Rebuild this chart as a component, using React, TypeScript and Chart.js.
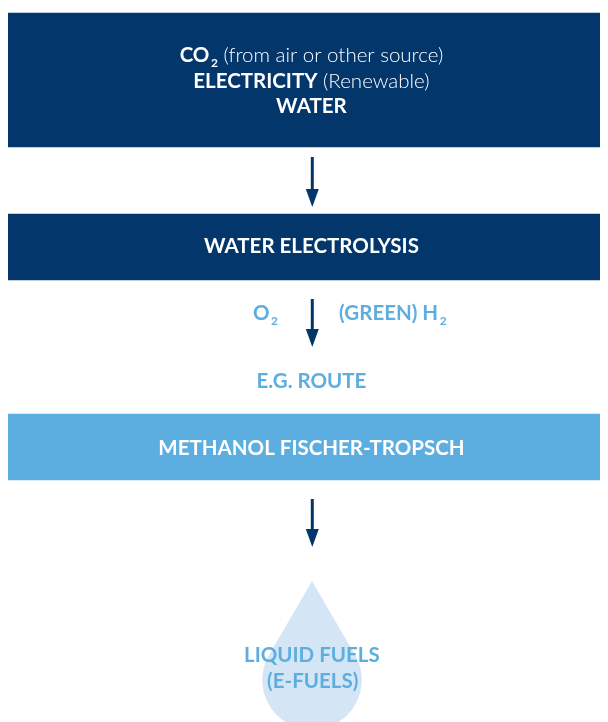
import React, { useEffect, useRef } from 'react';
import { Chart, registerables } from 'chart.js';

Chart.register(...registerables);

const NAVY = '#03366A';
const SKY = '#5DAEE0';
const DROP = '#D4E6F5';
const WHITE = '#FFFFFF';
const FONT = 'Lato, "Open Sans", sans-serif';

// Diagram units: x 0..600, y 0..714 (top to bottom)
const stageNames = ['Inputs', 'Water electrolysis', 'Synthesis route'];
const stageBands: [number, number][] = [[5, 139], [206, 272], [406, 472]];
const stageColors = [NAVY, NAVY, SKY];

type Seg = { t: string; bold: boolean; sub?: boolean };

const inputLines: Seg[][] = [
  [{ t: 'CO', bold: true }, { t: '2', bold: true, sub: true }, { t: ' (from air or other source)', bold: false }],
  [{ t: 'ELECTRICITY', bold: true }, { t: ' (Renewable)', bold: false }],
  [{ t: 'WATER', bold: true }],
];
const inputBaselines = [54, 80, 105];

const electrolysisLabel = 'WATER ELECTROLYSIS';
const synthesisLabel = 'METHANOL FISCHER-TROPSCH';
const byproductLabel: Seg[] = [{ t: 'O', bold: true }, { t: '2', bold: true, sub: true }];
const productLabel: Seg[] = [{ t: '(GREEN) H', bold: true }, { t: '2', bold: true, sub: true }];
const routeLabel = 'E.G. ROUTE';
const fuelLines = ['LIQUID FUELS', '(E-FUELS)'];

// arrows: [x, top, head start, tip]
const arrows: [number, number, number, number][] = [
  [305, 149, 181, 199],
  [305, 291, 321, 339],
  [305, 491, 521, 539],
];

// drop: tip y, bulb centre y, radius
const dropShape = { x: 304.7, tip: 573, centre: 672, radius: 58 };

const SIZE = 20.5;

function segFont(s: Seg, size: number) {
  const sz = s.sub ? Math.round(size * 0.58) : size;
  return `${s.bold ? 700 : 300} ${sz}px ${FONT}`;
}

function drawRich(ctx: CanvasRenderingContext2D, segs: Seg[], cx: number, baseline: number, color: string, size: number) {
  let total = 0;
  const widths = segs.map((s) => {
    ctx.font = segFont(s, size);
    const w = ctx.measureText(s.t).width + (s.sub ? 1.5 : 0);
    total += w;
    return w;
  });
  let x = cx - total / 2;
  ctx.fillStyle = color;
  ctx.textAlign = 'left';
  ctx.textBaseline = 'alphabetic';
  segs.forEach((s, i) => {
    ctx.font = segFont(s, size);
    ctx.fillText(s.t, x + (s.sub ? 1.5 : 0), baseline + (s.sub ? 5 : 0));
    x += widths[i];
  });
}

const diagramPlugin = {
  id: 'diagram',
  beforeDatasetsDraw(chart: any) {
    const ctx: CanvasRenderingContext2D = chart.ctx;
    const xs = chart.scales.xl;
    const ys = chart.scales.y;
    const tx = xs.getPixelForValue(dropShape.x);
    const ty = ys.getPixelForValue(dropShape.tip);
    const cy = ys.getPixelForValue(dropShape.centre);
    const r = xs.getPixelForValue(dropShape.radius) - xs.getPixelForValue(0);
    const d = cy - ty;
    const th = Math.acos(r / d);
    ctx.save();
    ctx.fillStyle = DROP;
    ctx.beginPath();
    ctx.moveTo(tx, ty);
    ctx.lineTo(tx + r * Math.cos(-Math.PI / 2 + th), cy + r * Math.sin(-Math.PI / 2 + th));
    ctx.arc(tx, cy, r, -Math.PI / 2 + th, (3 * Math.PI) / 2 - th, false);
    ctx.closePath();
    ctx.fill();
    ctx.restore();
  },
  afterDatasetsDraw(chart: any) {
    const ctx: CanvasRenderingContext2D = chart.ctx;
    const xs = chart.scales.xl;
    const ys = chart.scales.y;
    const X = (v: number) => xs.getPixelForValue(v);
    const Y = (v: number) => ys.getPixelForValue(v);
    ctx.save();
    arrows.forEach(([x, top, hs, tip]) => {
      ctx.strokeStyle = NAVY;
      ctx.lineWidth = 3;
      ctx.beginPath();
      ctx.moveTo(X(x), Y(top));
      ctx.lineTo(X(x), Y(hs) + 1);
      ctx.stroke();
      ctx.fillStyle = NAVY;
      ctx.beginPath();
      ctx.moveTo(X(x) - 6.5, Y(hs));
      ctx.lineTo(X(x) + 6.5, Y(hs));
      ctx.lineTo(X(x), Y(tip));
      ctx.closePath();
      ctx.fill();
    });
    inputLines.forEach((segs, i) => drawRich(ctx, segs, X(304), Y(inputBaselines[i]), WHITE, SIZE));
    drawRich(ctx, [{ t: electrolysisLabel, bold: true }], X(304), Y(245), WHITE, SIZE);
    drawRich(ctx, byproductLabel, X(250.5), Y(312), SKY, SIZE);
    drawRich(ctx, productLabel, X(399), Y(312), SKY, SIZE);
    drawRich(ctx, [{ t: routeLabel, bold: true }], X(304), Y(380), SKY, SIZE);
    drawRich(ctx, [{ t: synthesisLabel, bold: true }], X(304), Y(447), WHITE, SIZE);
    drawRich(ctx, [{ t: fuelLines[0], bold: true }], X(304.5), Y(654), SKY, SIZE);
    drawRich(ctx, [{ t: fuelLines[1], bold: true }], X(305.5), Y(680), SKY, SIZE);
    ctx.restore();
  },
};

export default function App() {
  const ref = useRef<HTMLCanvasElement | null>(null);
  useEffect(() => {
    if (!ref.current) return;
    const chart = new Chart(ref.current, {
      type: 'bar',
      data: {
        labels: ['flow'],
        datasets: stageBands.map((band, i) => ({
          label: stageNames[i],
          data: [band as any],
          backgroundColor: stageColors[i],
          borderWidth: 0,
          borderSkipped: false,
          grouped: false,
          barPercentage: 1,
          categoryPercentage: 1,
          xAxisID: 'x',
          yAxisID: 'y',
        })),
      },
      options: {
        responsive: false,
        devicePixelRatio: 1,
        animation: false,
        layout: { padding: 0 },
        plugins: { legend: { display: false }, tooltip: { enabled: false } },
        scales: {
          x: { type: 'category', display: false },
          xl: { type: 'linear', display: false, min: 0, max: 600 },
          y: { type: 'linear', display: false, min: 0, max: 714, reverse: true },
        },
      } as any,
      plugins: [diagramPlugin],
    });
    return () => chart.destroy();
  }, []);
  return <canvas ref={ref} width={600} height={714} style={{ display: 'block' }} />;
}
